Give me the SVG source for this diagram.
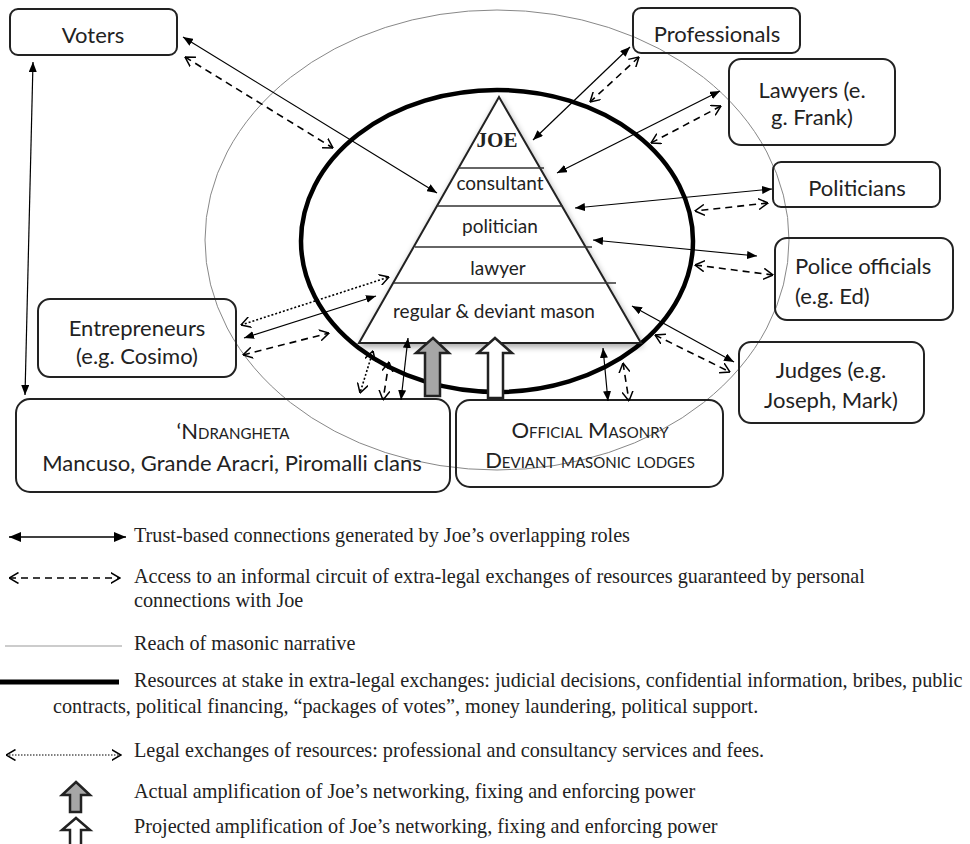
<svg xmlns="http://www.w3.org/2000/svg" width="970" height="844" viewBox="0 0 970 844">
<defs>
<marker id="ah" viewBox="0 0 10 8" refX="10" refY="4" markerWidth="10" markerHeight="8" markerUnits="userSpaceOnUse" orient="auto-start-reverse"><path d="M0,0 L10,4 L0,8 z" fill="#000"/></marker>
<marker id="ahL" viewBox="0 0 12 10" refX="12" refY="5" markerWidth="12" markerHeight="10" markerUnits="userSpaceOnUse" orient="auto-start-reverse"><path d="M0,0 L12,5 L0,10 z" fill="#000"/></marker>
<marker id="av" viewBox="0 0 10 12" refX="9.5" refY="6" markerWidth="10" markerHeight="12" markerUnits="userSpaceOnUse" orient="auto-start-reverse"><path d="M0,0.5 L9.5,6 L0,11.5" fill="none" stroke="#000" stroke-width="1.5"/></marker>
<filter id="sh" x="-10%" y="-10%" width="120%" height="125%"><feGaussianBlur in="SourceAlpha" stdDeviation="3"/><feOffset dx="1" dy="3"/><feComponentTransfer><feFuncA type="linear" slope="0.35"/></feComponentTransfer><feMerge><feMergeNode/><feMergeNode in="SourceGraphic"/></feMerge></filter>
</defs>
<style>
.box{fill:none;stroke:#222;stroke-width:2}
.lbl{font-family:Lato,"Open Sans","Liberation Sans",sans-serif;font-size:22px;fill:#222}
.pl{font-family:Lato,"Open Sans","Liberation Sans",sans-serif;font-size:19px;fill:#222;text-anchor:middle}
.sc{font-variant:small-caps}
.leg{font-family:"Liberation Serif","Times New Roman",serif;font-size:20.2px;fill:#222}
.s{fill:none;stroke:#000;stroke-width:1.2;marker-start:url(#ah);marker-end:url(#ah)}
.d{fill:none;stroke:#000;stroke-width:1.6;stroke-dasharray:7 5;marker-start:url(#av);marker-end:url(#av)}
.o{fill:none;stroke:#000;stroke-width:1.6;stroke-dasharray:2 2;marker-start:url(#av);marker-end:url(#av)}
.hl{stroke:#333;stroke-width:1.5}
</style>
<rect width="970" height="844" fill="#fff"/>

<g id="reach">
<ellipse cx="497" cy="240" rx="292" ry="230" fill="none" stroke="#888" stroke-width="1"/>
</g>
<g id="resources">
<ellipse cx="497" cy="241" rx="196" ry="151" fill="none" stroke="#000" stroke-width="4.5"/>
</g>

<g id="joe-pyramid">
<path d="M499,97 L641,343 L359,343 Z" fill="#fff" stroke="#222" stroke-width="2" filter="url(#sh)"/>
<line class="hl" x1="458" y1="168" x2="544" y2="168"/>
<line class="hl" x1="437" y1="206" x2="563" y2="206"/>
<line class="hl" x1="415" y1="247" x2="592" y2="247"/>
<line class="hl" x1="394" y1="283" x2="616" y2="283"/>
<text x="497" y="147" text-anchor="middle" font-family="'Liberation Serif','Times New Roman',serif" font-weight="bold" font-size="21" fill="#222">JOE</text>
<text class="pl" x="500" y="190">consultant</text>
<text class="pl" x="500" y="233">politician</text>
<text class="pl" x="498" y="275">lawyer</text>
<text class="pl" x="494" y="318">regular &amp; deviant mason</text>
</g>

<g id="voters"><rect class="box" x="10" y="9" width="167" height="46" rx="8"/><text class="lbl" x="93" y="43" text-anchor="middle">Voters</text></g>
<g id="professionals"><rect class="box" x="633" y="8" width="167" height="45" rx="8"/><text class="lbl" x="717" y="42" text-anchor="middle">Professionals</text></g>
<g id="lawyers"><rect class="box" x="729" y="59" width="166" height="86" rx="12"/><text class="lbl" x="812" y="98" text-anchor="middle">Lawyers (e.</text><text class="lbl" x="812" y="125" text-anchor="middle">g. Frank)</text></g>
<g id="politicians"><rect class="box" x="773" y="162" width="167" height="45" rx="8"/><text class="lbl" x="857" y="196" text-anchor="middle">Politicians</text></g>
<g id="police"><rect class="box" x="775" y="238" width="178" height="82" rx="12"/><text class="lbl" x="795" y="274">Police officials</text><text class="lbl" x="795" y="304">(e.g. Ed)</text></g>
<g id="judges"><rect class="box" x="739" y="342" width="185" height="81" rx="12"/><text class="lbl" x="831" y="378" text-anchor="middle">Judges (e.g.</text><text class="lbl" x="831" y="408" text-anchor="middle">Joseph, Mark)</text></g>
<g id="entrepreneurs"><rect class="box" x="38" y="299" width="198" height="78" rx="12"/><text class="lbl" x="137" y="336" text-anchor="middle">Entrepreneurs</text><text class="lbl" x="137" y="364" text-anchor="middle">(e.g. Cosimo)</text></g>
<g id="ndrangheta"><rect class="box" x="16" y="399" width="434" height="93" rx="14"/><text class="lbl sc" x="233" y="439" text-anchor="middle">‘Ndrangheta</text><text class="lbl" x="232" y="471" text-anchor="middle">Mancuso, Grande Aracri, Piromalli clans</text></g>
<g id="masonry"><rect class="box" x="456" y="400" width="267" height="87" rx="14"/><text class="lbl sc" x="590" y="438" text-anchor="middle">Official Masonry</text><text class="lbl sc" x="590" y="468" text-anchor="middle">Deviant masonic lodges</text></g>

<g id="amplification">
<path d="M433,338 L449,353 L440,353 L440,396 L425,396 L425,353 L416,353 Z" fill="#a6a6a6" stroke="#222" stroke-width="2.5" stroke-linejoin="miter"/>
<path d="M495,338 L512,353 L503,353 L503,398 L488,398 L488,353 L478,353 Z" fill="#fff" stroke="#222" stroke-width="2.5" stroke-linejoin="miter"/>
</g>

<g id="connectors">
<line class="s" x1="183" y1="37" x2="437" y2="193"/>
<line class="d" x1="185" y1="57" x2="333" y2="148"/>
<line class="s" x1="33" y1="62" x2="25" y2="395"/>
<line class="s" x1="630" y1="47" x2="533" y2="140"/>
<line class="d" x1="639" y1="57" x2="590" y2="102"/>
<line class="s" x1="720" y1="91" x2="557" y2="173"/>
<line class="d" x1="721" y1="106" x2="651" y2="143"/>
<line class="s" x1="772" y1="189" x2="575" y2="208"/>
<line class="d" x1="768" y1="203" x2="695" y2="211"/>
<line class="s" x1="593" y1="240" x2="757" y2="256"/>
<line class="d" x1="695" y1="265" x2="773" y2="275"/>
<line class="s" x1="632" y1="306" x2="734" y2="362"/>
<line class="d" x1="655" y1="335" x2="730" y2="372"/>
<line class="s" x1="603" y1="348" x2="608" y2="401"/>
<line class="d" x1="623" y1="363" x2="629" y2="401"/>
<line class="s" x1="408" y1="338" x2="401" y2="400"/>
<line class="d" x1="389" y1="362" x2="383" y2="400"/>
<line class="o" x1="373" y1="351" x2="360" y2="393"/>
<line class="o" x1="241" y1="325" x2="389" y2="277"/>
<line class="s" x1="244" y1="338" x2="376" y2="296"/>
<line class="d" x1="243" y1="355" x2="329" y2="333"/>
</g>

<g id="legend">
<line x1="9" y1="537" x2="126" y2="537" stroke="#000" stroke-width="1.5" marker-start="url(#ahL)" marker-end="url(#ahL)"/>
<text class="leg" x="134" y="542">Trust-based connections generated by Joe’s overlapping roles</text>
<line x1="9" y1="578" x2="120" y2="578" stroke="#000" stroke-width="1.6" stroke-dasharray="7 5" marker-start="url(#av)" marker-end="url(#av)"/>
<text class="leg" x="134" y="583">Access to an informal circuit of extra-legal exchanges of resources guaranteed by personal</text>
<text class="leg" x="134" y="607">connections with Joe</text>
<line x1="5" y1="646" x2="122" y2="646" stroke="#999" stroke-width="1"/>
<text class="leg" x="134" y="650">Reach of masonic narrative</text>
<line x1="0" y1="682" x2="119" y2="682" stroke="#000" stroke-width="5"/>
<text class="leg" x="134" y="687">Resources at stake in extra-legal exchanges: judicial decisions, confidential information, bribes, public</text>
<text class="leg" x="53" y="713">contracts, political financing, “packages of votes”, money laundering, political support.</text>
<line x1="6" y1="755" x2="121" y2="755" stroke="#000" stroke-width="1.2" stroke-dasharray="1.5 1.5" marker-start="url(#av)" marker-end="url(#av)"/>
<text class="leg" x="134" y="757">Legal exchanges of resources: professional and consultancy services and fees.</text>
<path d="M76,782 L90,795 L81,795 L81,812 L70,812 L70,795 L62,795 Z" fill="#a6a6a6" stroke="#222" stroke-width="2.5"/>
<text class="leg" x="134" y="798">Actual amplification of Joe’s networking, fixing and enforcing power</text>
<path d="M76,818 L90,830 L81,830 L81,846 L70,846 L70,830 L62,830 Z" fill="#fff" stroke="#222" stroke-width="2.5"/>
<text class="leg" x="134" y="833">Projected amplification of Joe’s networking, fixing and enforcing power</text>
</g>
</svg>
